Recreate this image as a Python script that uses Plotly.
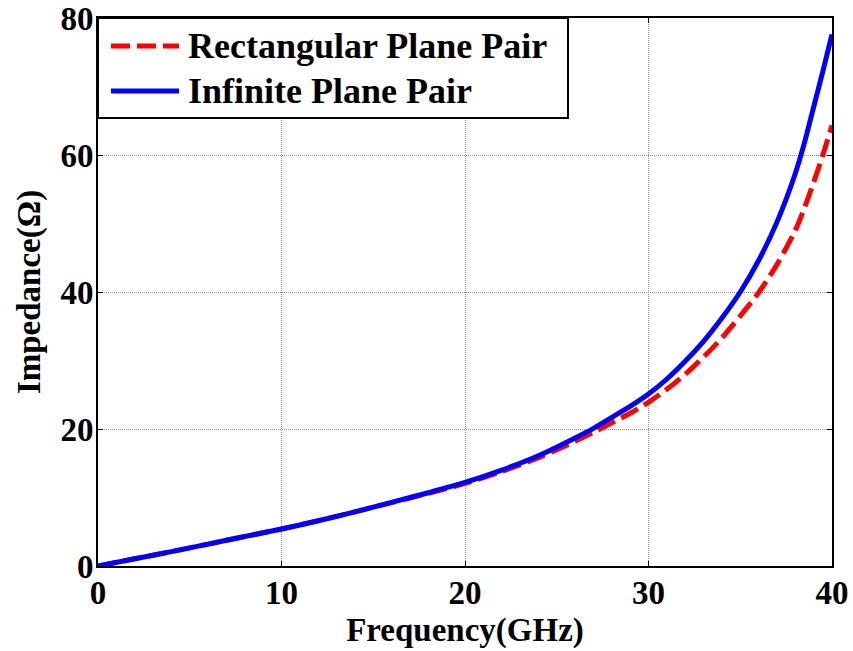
import plotly.graph_objects as go

# Frequency samples (GHz) and impedance (Ohm) for the two plane-pair models
freq_rect = [0, 2, 4, 6, 8, 10, 12, 14, 16, 18, 20, 22, 24, 26, 27, 28, 29,
             30, 31, 32, 33, 34, 35, 36, 37, 38, 38.5, 39, 39.5, 40]
z_rect = [0, 1.05, 2.1, 3.2, 4.3, 5.4, 6.6, 7.9, 9.25, 10.6, 12.05, 13.8,
          15.8, 18.2, 19.5, 20.9, 22.3, 23.9, 25.8, 28.0, 30.5, 33.3, 36.5,
          39.9, 44.0, 49.0, 52.3, 56.0, 60.0, 64.3]

freq_inf = [0, 2, 4, 6, 8, 10, 12, 14, 16, 18, 20, 22, 24, 26, 27, 28, 29,
            30, 31, 32, 33, 34, 35, 36, 37, 38, 38.5, 39, 39.5, 40]
z_inf = [0, 1.05, 2.1, 3.2, 4.3, 5.4, 6.6, 7.9, 9.3, 10.7, 12.2, 14.0,
         16.1, 18.7, 20.1, 21.7, 23.3, 25.1, 27.3, 29.9, 32.8, 36.2, 40.0,
         44.6, 50.2, 57.3, 61.8, 67.0, 72.2, 77.6]

x_ticks = [0, 10, 20, 30, 40]
y_ticks = [0, 20, 40, 60, 80]

names = ["Rectangular Plane Pair", "Infinite Plane Pair"]
colors = ["#ff0000", "#0000ff"]
dashes = ["19px,7px", "solid"]

FONT = "Liberation Serif, Times New Roman, serif"
W, H = 853, 651
ML, MR, MT, MB = 98, 21, 18, 85
PW, PH = W - ML - MR, H - MT - MB

fig = go.Figure()
fig.add_trace(go.Scatter(x=freq_rect, y=z_rect, mode="lines", name=names[0],
                         line=dict(color=colors[0], width=5, dash=dashes[0],
                                   shape="spline", smoothing=0.8)))
fig.add_trace(go.Scatter(x=freq_inf, y=z_inf, mode="lines", name=names[1],
                         line=dict(color=colors[1], width=5, dash=dashes[1],
                                   shape="spline", smoothing=0.8)))

axis_common = dict(
    showline=True, linecolor="black", linewidth=2, mirror="ticks",
    ticks="inside", ticklen=5, tickcolor="black", tickwidth=1,
    showgrid=True, gridcolor="#8c8c8c", gridwidth=1, griddash="1px,1px",
    zeroline=False, automargin=False,
    tickfont=dict(family=FONT, size=33, color="black", weight="bold"),
)
title_font = dict(family=FONT, size=33, color="black", weight="bold")

fig.update_xaxes(range=[0, 40], tickvals=x_ticks, ticklabelstandoff=-4,
                 **axis_common,
                 title=dict(text="Frequency(GHz)", standoff=8, font=title_font))
fig.update_yaxes(range=[0, 80], tickvals=y_ticks, ticklabelstandoff=-4,
                 **axis_common,
                 title=dict(text="Impedance(Ω)", standoff=10, font=title_font))


def px_x(p):
    return (p - ML) / PW


def px_y(p):
    return 1 - (p - MT) / PH


# Legend box with line samples and labels
shapes = [dict(type="rect", xref="paper", yref="paper",
               x0=px_x(98), x1=px_x(568), y0=px_y(118), y1=px_y(18),
               line=dict(color="black", width=2), fillcolor="white", layer="above")]
annotations = []
rows = [46, 91]
for name, col, dsh, yc in zip(names, colors, dashes, rows):
    shapes.append(dict(type="line", xref="paper", yref="paper",
                       x0=px_x(111), x1=px_x(179), y0=px_y(yc), y1=px_y(yc),
                       line=dict(color=col, width=5, dash=dsh), layer="above"))
    annotations.append(dict(xref="paper", yref="paper", x=px_x(186), y=px_y(yc),
                            xanchor="left", yanchor="middle", showarrow=False,
                            text="<b>" + name + "</b>",
                            font=dict(family=FONT, size=36, color="black")))

fig.update_layout(
    width=W, height=H,
    margin=dict(l=ML, r=MR, t=MT, b=MB),
    paper_bgcolor="white", plot_bgcolor="white",
    showlegend=False,
    shapes=shapes, annotations=annotations,
)

fig.write_html("out.html")
